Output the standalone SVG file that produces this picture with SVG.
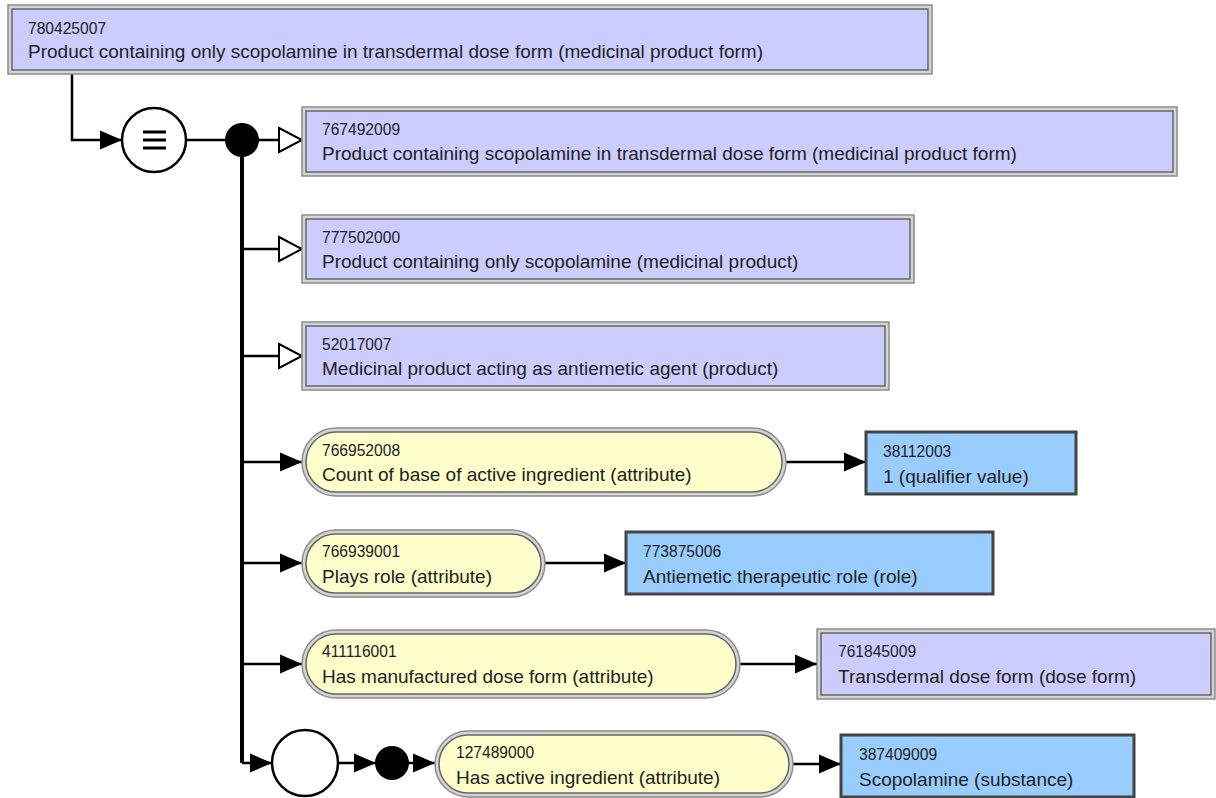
<svg xmlns="http://www.w3.org/2000/svg" width="1216" height="798" viewBox="0 0 1216 798">
<style>
.bg{fill:#ffffff}
.ob{fill:#d4d4d4;stroke:#8c8c8c;stroke-width:1.5}
.ip{fill:#ccccff;stroke:#666666;stroke-width:1.5}
.iy{fill:#ffffcc;stroke:#666666;stroke-width:1.5}
.bl{fill:#99ccff;stroke:#444444;stroke-width:3}
.id{font-family:"Liberation Sans",Arial,sans-serif;font-size:15.6px;fill:#222222}
.lb{font-family:"Liberation Sans",Arial,sans-serif;font-size:19px;fill:#222222}
.c{fill:none;stroke:#000000;stroke-width:2.5}
.tr{fill:none;stroke:#000000;stroke-width:4}
.fa{marker-end:url(#fill)}
.ha{marker-end:url(#hollow)}
</style>
<defs>
<marker id="fill" markerUnits="userSpaceOnUse" markerWidth="24" markerHeight="20" refX="23" refY="10" orient="auto">
<path d="M1,0.5 L23,10 L1,19.5 Z" fill="#000000"/>
</marker>
<marker id="hollow" markerUnits="userSpaceOnUse" markerWidth="27" markerHeight="28" refX="25" refY="14" orient="auto">
<path d="M2,2 L25,14 L2,26 Z" fill="#ffffff" stroke="#000000" stroke-width="2"/>
</marker>
</defs>
<rect class="bg" x="0" y="0" width="1216" height="798"/>

<g id="connectors">
<path class="c fa" d="M72,74 V140 H122"/>
<path class="c" d="M186,140 H226"/>
<path class="c ha" d="M258,140 H302"/>
<path class="tr" d="M242,150 V763"/>
<path class="c fa" d="M242,763 H272"/>
<path class="c ha" d="M242,249 H302"/>
<path class="c ha" d="M242,356 H302"/>
<path class="c fa" d="M242,462 H302"/>
<path class="c fa" d="M242,563 H302"/>
<path class="c fa" d="M242,664 H302"/>
<path class="c fa" d="M338,763 H376"/>
<path class="c fa" d="M408,763 H435"/>
<path class="c fa" d="M786,462 H866"/>
<path class="c fa" d="M545,563 H626"/>
<path class="c fa" d="M740,664 H817"/>
<path class="c fa" d="M793,764 H841"/>
</g>

<g id="n780425007">
<rect class="ob" x="8" y="5" width="924" height="69"/>
<rect class="ip" x="12" y="9" width="916" height="61"/>
<text class="id" x="28" y="34">780425007</text>
<text class="lb" x="28" y="58">Product containing only scopolamine in transdermal dose form (medicinal product form)</text>
</g>

<g id="equiv">
<circle cx="154" cy="140" r="32" fill="#ffffff" stroke="#000000" stroke-width="2.5"/>
<path d="M143,132 H166 M143,140 H166 M143,148 H166" stroke="#000000" stroke-width="3"/>
</g>

<g id="conj1">
<circle cx="242" cy="140" r="17" fill="#000000"/>
</g>

<g id="n767492009">
<rect class="ob" x="302" y="107" width="875" height="69"/>
<rect class="ip" x="306" y="111" width="867" height="61"/>
<text class="id" x="322" y="135">767492009</text>
<text class="lb" x="322" y="160">Product containing scopolamine in transdermal dose form (medicinal product form)</text>
</g>

<g id="n777502000">
<rect class="ob" x="302" y="215" width="612" height="68"/>
<rect class="ip" x="306" y="219" width="604" height="60"/>
<text class="id" x="322" y="243">777502000</text>
<text class="lb" x="322" y="268">Product containing only scopolamine (medicinal product)</text>
</g>

<g id="n52017007">
<rect class="ob" x="302" y="322" width="587" height="68"/>
<rect class="ip" x="306" y="326" width="579" height="60"/>
<text class="id" x="322" y="350">52017007</text>
<text class="lb" x="322" y="375">Medicinal product acting as antiemetic agent (product)</text>
</g>

<g id="n766952008">
<rect class="ob" x="302" y="428" width="484" height="68" rx="34" ry="34"/>
<rect class="iy" x="306" y="432" width="476" height="60" rx="30" ry="30"/>
<text class="id" x="322" y="456">766952008</text>
<text class="lb" x="322" y="481">Count of base of active ingredient (attribute)</text>
</g>

<g id="n38112003">
<rect class="bl" x="866" y="432" width="210" height="62"/>
<text class="id" x="883" y="457">38112003</text>
<text class="lb" x="883" y="483">1 (qualifier value)</text>
</g>

<g id="n766939001">
<rect class="ob" x="302" y="530" width="243" height="67" rx="33.5" ry="33.5"/>
<rect class="iy" x="306" y="534" width="235" height="59" rx="29.5" ry="29.5"/>
<text class="id" x="322" y="557">766939001</text>
<text class="lb" x="322" y="583">Plays role (attribute)</text>
</g>

<g id="n773875006">
<rect class="bl" x="626" y="532" width="367" height="62"/>
<text class="id" x="643" y="557">773875006</text>
<text class="lb" x="643" y="583">Antiemetic therapeutic role (role)</text>
</g>

<g id="n411116001">
<rect class="ob" x="302" y="630" width="438" height="68" rx="34" ry="34"/>
<rect class="iy" x="306" y="634" width="430" height="60" rx="30" ry="30"/>
<text class="id" x="322" y="657">411116001</text>
<text class="lb" x="322" y="683">Has manufactured dose form (attribute)</text>
</g>

<g id="n761845009">
<rect class="ob" x="817" y="629" width="398" height="70"/>
<rect class="ip" x="821" y="633" width="390" height="62"/>
<text class="id" x="838" y="657">761845009</text>
<text class="lb" x="838" y="683">Transdermal dose form (dose form)</text>
</g>

<g id="group1">
<circle cx="305" cy="763" r="33" fill="#ffffff" stroke="#000000" stroke-width="2.5"/>
</g>

<g id="conj2">
<circle cx="392" cy="763" r="17" fill="#000000"/>
</g>

<g id="n127489000">
<rect class="ob" x="435" y="731" width="358" height="66" rx="33" ry="33"/>
<rect class="iy" x="439" y="735" width="350" height="58" rx="29" ry="29"/>
<text class="id" x="456" y="758">127489000</text>
<text class="lb" x="456" y="784">Has active ingredient (attribute)</text>
</g>

<g id="n387409009">
<rect class="bl" x="841" y="735" width="293" height="62"/>
<text class="id" x="859" y="760">387409009</text>
<text class="lb" x="859" y="786">Scopolamine (substance)</text>
</g>
</svg>
